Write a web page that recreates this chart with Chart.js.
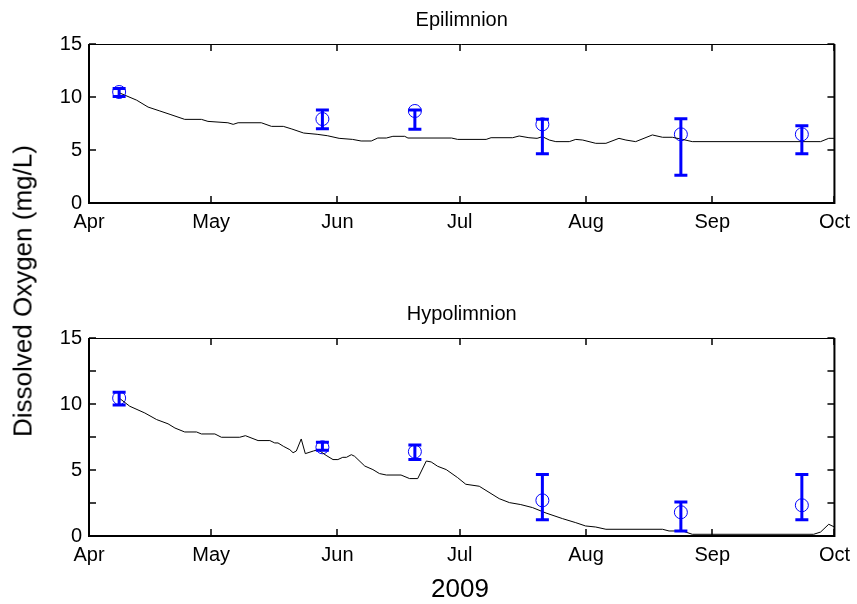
<!DOCTYPE html>
<html>
<head>
<meta charset="utf-8">
<script src="https://cdn.jsdelivr.net/npm/chart.js@4.4.0/dist/chart.umd.min.js"></script>
<style>
  body { margin: 0; background: #fff; }
  #wrap { position: relative; width: 857px; height: 604px; font-family: "Liberation Sans", Arial, sans-serif; }
  canvas { position: absolute; left: 0; }
  #epi { top: 0; }
  #hypo { top: 294px; }
  .label { position: absolute; font-size: 26px; color: #000; white-space: nowrap; }
  #ylabel { left: 23px; top: 291px; transform: translate(-50%, -50%) rotate(-90deg); }
  #xlabel { left: 460px; top: 588px; transform: translate(-50%, -50%); }
</style>
</head>
<body>
<div id="wrap">
  <canvas id="epi" width="857" height="240"></canvas>
  <canvas id="hypo" width="857" height="279"></canvas>
  <div class="label" id="ylabel">Dissolved Oxygen (mg/L)</div>
  <div class="label" id="xlabel">2009</div>
</div>
<script>
// x values are days counted from 1 April 2009
const monthTicks = [0, 30, 61, 91, 122, 153, 183];
const monthLabels = ['Apr', 'May', 'Jun', 'Jul', 'Aug', 'Sep', 'Oct'];

// field samples (mean and error bar range)
const obsDay = [7.4, 57.3, 80, 111.3, 145.3, 175];
const epiObs = [10.47, 7.92, 8.68, 7.42, 6.48, 6.48];
const epiLow = [10.05, 7.0, 6.95, 4.65, 2.61, 4.65];
const epiHigh = [10.8, 8.77, 8.77, 7.9, 7.95, 7.29];
const hypoObs = [10.45, 6.72, 6.39, 2.70, 1.80, 2.33];
const hypoLow = [9.92, 6.5, 5.79, 1.24, 0.38, 1.24];
const hypoHigh = [10.89, 7.1, 6.9, 4.65, 2.58, 4.65];

// model output
const epiModelDay = [7.4, 11.7, 14.5, 17.4, 19.9, 23.5, 27.6, 29.2, 34.1, 35.4, 36.6, 42.3, 44.8, 47.7,
  49.8, 52.7, 56, 58.5, 61.4, 64.7, 66.8, 69.3, 70.9, 73, 74.6, 77.5, 78.3, 89, 90.5, 97.5, 98.7, 104,
  105.6, 108, 110, 111.3, 113, 114.6, 117.9, 119.5, 121.2, 124.4, 126.9, 130.1, 131.8, 134.2, 138.3,
  140.8, 143.2, 145.7, 148.1, 179.6, 181.6, 183];
const epiModel = [10.4, 9.7, 9.05, 8.68, 8.36, 7.89, 7.89, 7.7, 7.57, 7.42, 7.57, 7.57, 7.23, 7.23,
  6.98, 6.6, 6.48, 6.35, 6.1, 6.0, 5.85, 5.85, 6.13, 6.13, 6.29, 6.29, 6.13, 6.13, 6.0, 6.0, 6.16, 6.16,
  6.32, 6.16, 6.1, 6.26, 5.94, 5.79, 5.79, 6.0, 5.94, 5.63, 5.63, 6.1, 5.94, 5.79, 6.42,
  6.2, 6.2, 6.0, 5.79, 5.79, 6.1, 6.1];
const hypoModelDay = [7.4, 10, 13.7, 16.6, 19.4, 21.1, 23.5, 26.4, 27.6, 30.9, 32.5, 37, 38.4, 41.5,
  44.4, 45.6, 46.4, 47.7, 49.3, 50.1, 50.9, 52.1, 53.1, 55.1, 56.2, 58.2, 59.9, 61.1, 62.3, 63.2, 64.4,
  65.2, 67.7, 69.7, 71.3, 73, 76.6, 78.7, 80.7, 82.8, 84, 85.6, 87.7, 90.5, 92.5, 95.8, 100.7, 103.2,
  106, 108.9, 112.2, 116.2, 119.5, 121.9, 124.4, 126.9, 140.8, 142.4, 145.7, 148.1, 177.9, 179.6,
  181.6, 183];
const hypoModel = [10.45, 9.83, 9.32, 8.82, 8.5, 8.18, 7.88, 7.88, 7.73, 7.73, 7.48, 7.48, 7.6, 7.23,
  7.23, 7.05, 7.05, 6.8, 6.54, 6.31, 6.44, 7.35, 6.24, 6.44, 6.54, 6.11, 5.79, 5.79, 5.96, 5.96, 6.16,
  6.04, 5.3, 5.03, 4.73, 4.62, 4.62, 4.35, 4.35, 5.68, 5.61, 5.28, 5.03, 4.42, 3.92, 3.77, 2.83, 2.53,
  2.38, 2.15, 1.74, 1.32, 1.01, 0.76, 0.68, 0.51, 0.51, 0.38, 0.38, 0.13, 0.13, 0.3,
  0.89, 0.68];

Chart.defaults.font.family = '"Liberation Sans", Arial, sans-serif';
Chart.defaults.color = '#000';

// vertical error bars with caps
function errorBars(low, high) {
  return {
    id: 'errorBars',
    afterDatasetsDraw(chart) {
      const { ctx, scales: { x, y } } = chart;
      ctx.save();
      ctx.strokeStyle = '#0000ff';
      ctx.lineWidth = 3;
      ctx.beginPath();
      low.forEach((lo, i) => {
        const px = x.getPixelForValue(obsDay[i]);
        const y0 = y.getPixelForValue(lo);
        const y1 = y.getPixelForValue(high[i]);
        ctx.moveTo(px, y0); ctx.lineTo(px, y1);
        ctx.moveTo(px - 6.5, y0); ctx.lineTo(px + 6.5, y0);
        ctx.moveTo(px - 6.5, y1); ctx.lineTo(px + 6.5, y1);
      });
      ctx.stroke();
      ctx.restore();
    }
  };
}

// boxed axes with inward tick marks
const boxAxes = {
  id: 'boxAxes',
  afterDraw(chart) {
    const { ctx, chartArea: a, scales: { x, y } } = chart;
    ctx.save();
    ctx.strokeStyle = '#000';
    ctx.lineWidth = 1.5;
    ctx.beginPath();
    x.ticks.forEach(t => {
      const px = Math.round(x.getPixelForValue(t.value));
      ctx.moveTo(px, a.bottom); ctx.lineTo(px, a.bottom - 7);
      ctx.moveTo(px, a.top); ctx.lineTo(px, a.top + 7);
    });
    y.ticks.forEach(t => {
      const py = Math.round(y.getPixelForValue(t.value));
      ctx.moveTo(a.left, py); ctx.lineTo(a.left + 7, py);
      ctx.moveTo(a.right, py); ctx.lineTo(a.right - 7, py);
    });
    ctx.stroke();

    ctx.lineWidth = 1;
    ctx.beginPath();
    ctx.moveTo(a.left, a.top + 0.5); ctx.lineTo(a.right, a.top + 0.5);
    ctx.stroke();
    ctx.lineWidth = 2;
    ctx.beginPath();
    ctx.moveTo(a.left, a.top); ctx.lineTo(a.left, a.bottom);
    ctx.lineTo(a.right, a.bottom); ctx.lineTo(a.right, a.top);
    ctx.stroke();
    ctx.restore();
  }
};

function makeChart(id, title, modelDay, model, obs, low, high) {
  return new Chart(document.getElementById(id), {
    type: 'scatter',
    data: {
      datasets: [
        {
          data: modelDay.map((d, i) => ({ x: d, y: model[i] })),
          showLine: true,
          borderColor: '#000',
          borderWidth: 1,
          pointRadius: 0
        },
        {
          data: obsDay.map((d, i) => ({ x: d, y: obs[i] })),
          pointRadius: 6.5,
          pointBorderWidth: 1,
          pointBorderColor: '#0000ff',
          pointBackgroundColor: 'rgba(0,0,0,0)'
        }
      ]
    },
    options: {
      responsive: false,
      animation: false,
      events: [],
      layout: { padding: { left: 0, right: 21, top: 0, bottom: 0 } },
      plugins: {
        legend: { display: false },
        tooltip: { enabled: false },
        title: {
          display: true,
          fullSize: false,
          text: title,
          font: { size: 20, weight: 'normal' },
          padding: { top: 8, bottom: 12 }
        }
      },
      scales: {
        x: {
          type: 'linear',
          min: 0,
          max: 183,
          afterBuildTicks: s => { s.ticks = monthTicks.map(v => ({ value: v })); },
          afterFit: s => { s.height = 37; },
          ticks: {
            font: { size: 20 },
            padding: 7,
            maxRotation: 0,
            autoSkip: false,
            callback: (v, i) => monthLabels[i]
          },
          grid: { display: false, drawTicks: false },
          border: { display: false }
        },
        y: {
          min: 0,
          max: 15,
          afterFit: s => { s.width = 89; },
          ticks: {
            stepSize: 2.5,
            font: { size: 20 },
            padding: 7,
            callback: v => (v % 5 === 0 ? v : '')
          },
          grid: { display: false, drawTicks: false },
          border: { display: false }
        }
      }
    },
    plugins: [errorBars(low, high), boxAxes]
  });
}

makeChart('epi', 'Epilimnion', epiModelDay, epiModel, epiObs, epiLow, epiHigh);
makeChart('hypo', 'Hypolimnion', hypoModelDay, hypoModel, hypoObs, hypoLow, hypoHigh);
</script>
</body>
</html>
